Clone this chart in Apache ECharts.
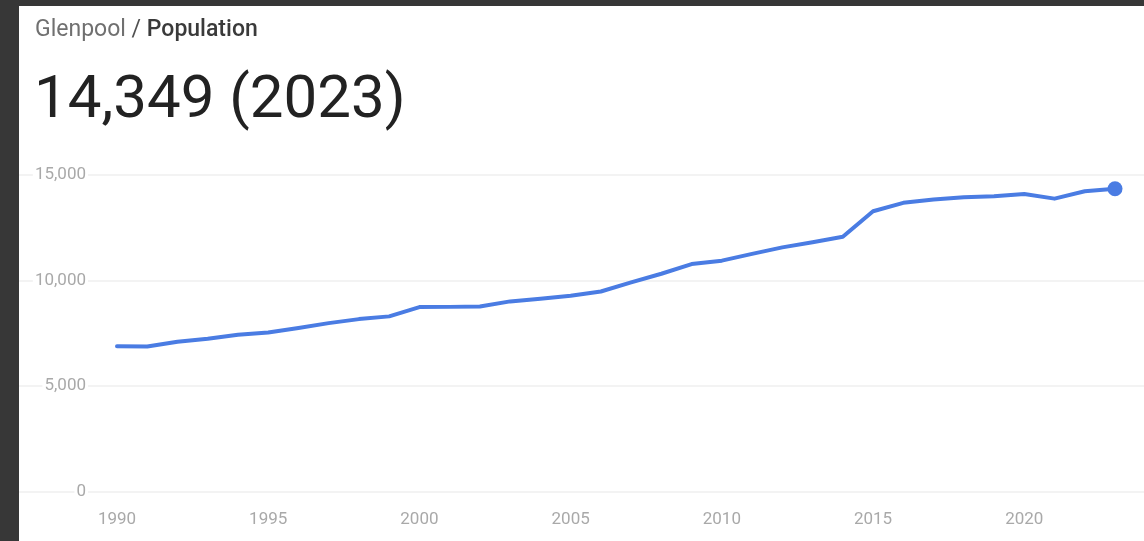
<!DOCTYPE html>
<html>
<head>
<meta charset="utf-8">
<script src="https://cdn.jsdelivr.net/npm/echarts@6/dist/echarts.min.js"></script>
<style>
  html, body { margin: 0; padding: 0; width: 1144px; height: 541px; background: #373737; overflow: hidden; }
  #panel { position: absolute; left: 19px; top: 6px; width: 1125px; height: 535px; background: #ffffff; }
  #chart { position: absolute; left: 0; top: 0; width: 1144px; height: 541px; }
</style>
</head>
<body>
<div id="panel"></div>
<div id="chart"></div>
<script>
const years = [1990,1991,1992,1993,1994,1995,1996,1997,1998,1999,
               2000,2001,2002,2003,2004,2005,2006,2007,2008,2009,
               2010,2011,2012,2013,2014,2015,2016,2017,2018,2019,
               2020,2021,2022,2023];
const population = [6880,6870,7100,7240,7430,7540,7750,7980,8170,8300,
                     8740,8750,8770,9010,9140,9280,9480,9910,10320,10780,
                     10940,11260,11570,11810,12070,13280,13680,13840,13950,13990,
                     14100,13880,14230,14349];
const yTicks = [0, 5000, 10000, 15000];
const xTickYears = [1990, 1995, 2000, 2005, 2010, 2015, 2020];
const placeName = 'Glenpool';
const metricName = 'Population';

const lastIdx = population.length - 1;
const seriesData = years.map((y, i) => [y, population[i]]);
const headline = population[lastIdx].toLocaleString('en-US') + ' (' + years[lastIdx] + ')';

const chart = echarts.init(document.getElementById('chart'), null, { renderer: 'canvas' });
const FONT = 'Roboto, "Noto Sans", sans-serif';

chart.setOption({
  backgroundColor: 'transparent',
  animation: false,
  title: [
    {
      text: '{a|' + placeName + '}{s| / }{b|' + metricName + '}',
      left: 30, top: 14,
      textStyle: {
        fontWeight: 'normal',
        rich: {
          a: { fontFamily: FONT, fontSize: 23, fontWeight: 'normal', color: '#707070' },
          s: { fontFamily: FONT, fontSize: 23, fontWeight: 'normal', color: '#505050' },
          b: { fontFamily: FONT, fontSize: 23, fontWeight: 500, color: '#3a3a3a' }
        }
      }
    },
    {
      text: headline,
      left: 29, top: 67,
      textStyle: { fontFamily: FONT, fontSize: 60, fontWeight: 'normal', color: '#222222' }
    }
  ],
  grid: [
    { left: 19, right: 0, top: 175, bottom: 49.5, containLabel: false },
    { left: 117, right: 29, top: 175, bottom: 49.5, containLabel: false }
  ],
  xAxis: [
    { type: 'value', gridIndex: 0, min: 0, max: 1, show: false },
    {
      type: 'value', gridIndex: 1, min: years[0], max: years[lastIdx], interval: 5,
      axisLine: { show: false }, axisTick: { show: false }, splitLine: { show: false },
      axisLabel: {
        margin: 20, fontFamily: FONT, fontSize: 17, color: '#a9a9a9',
        formatter: v => xTickYears.indexOf(v) >= 0 ? String(v) : ''
      }
    }
  ],
  yAxis: [
    {
      type: 'value', gridIndex: 0, min: yTicks[0], max: yTicks[yTicks.length - 1], interval: 5000,
      axisLine: { show: false }, axisTick: { show: false }, axisLabel: { show: false },
      splitLine: { show: true, lineStyle: { color: '#efefef', width: 1.5 } }
    },
    {
      type: 'value', gridIndex: 1, min: yTicks[0], max: yTicks[yTicks.length - 1], interval: 5000,
      axisLine: { show: false }, axisTick: { show: false }, splitLine: { show: false },
      axisLabel: {
        margin: 29, fontFamily: FONT, fontSize: 17, color: '#a9a9a9',
        backgroundColor: '#ffffff', padding: [0, 2, 0, 2],
        formatter: v => v.toLocaleString('en-US')
      }
    }
  ],
  series: [
    {
      type: 'line', xAxisIndex: 1, yAxisIndex: 1,
      data: seriesData,
      showSymbol: false, smooth: false,
      lineStyle: { color: '#4a7ce3', width: 4, cap: 'round', join: 'round' },
      itemStyle: { color: '#4a7ce3' }
    },
    {
      type: 'scatter', xAxisIndex: 1, yAxisIndex: 1,
      data: [seriesData[lastIdx]],
      symbol: 'circle', symbolSize: 15,
      itemStyle: { color: '#4a7ce3', opacity: 1 }
    }
  ]
});
</script>
</body>
</html>
